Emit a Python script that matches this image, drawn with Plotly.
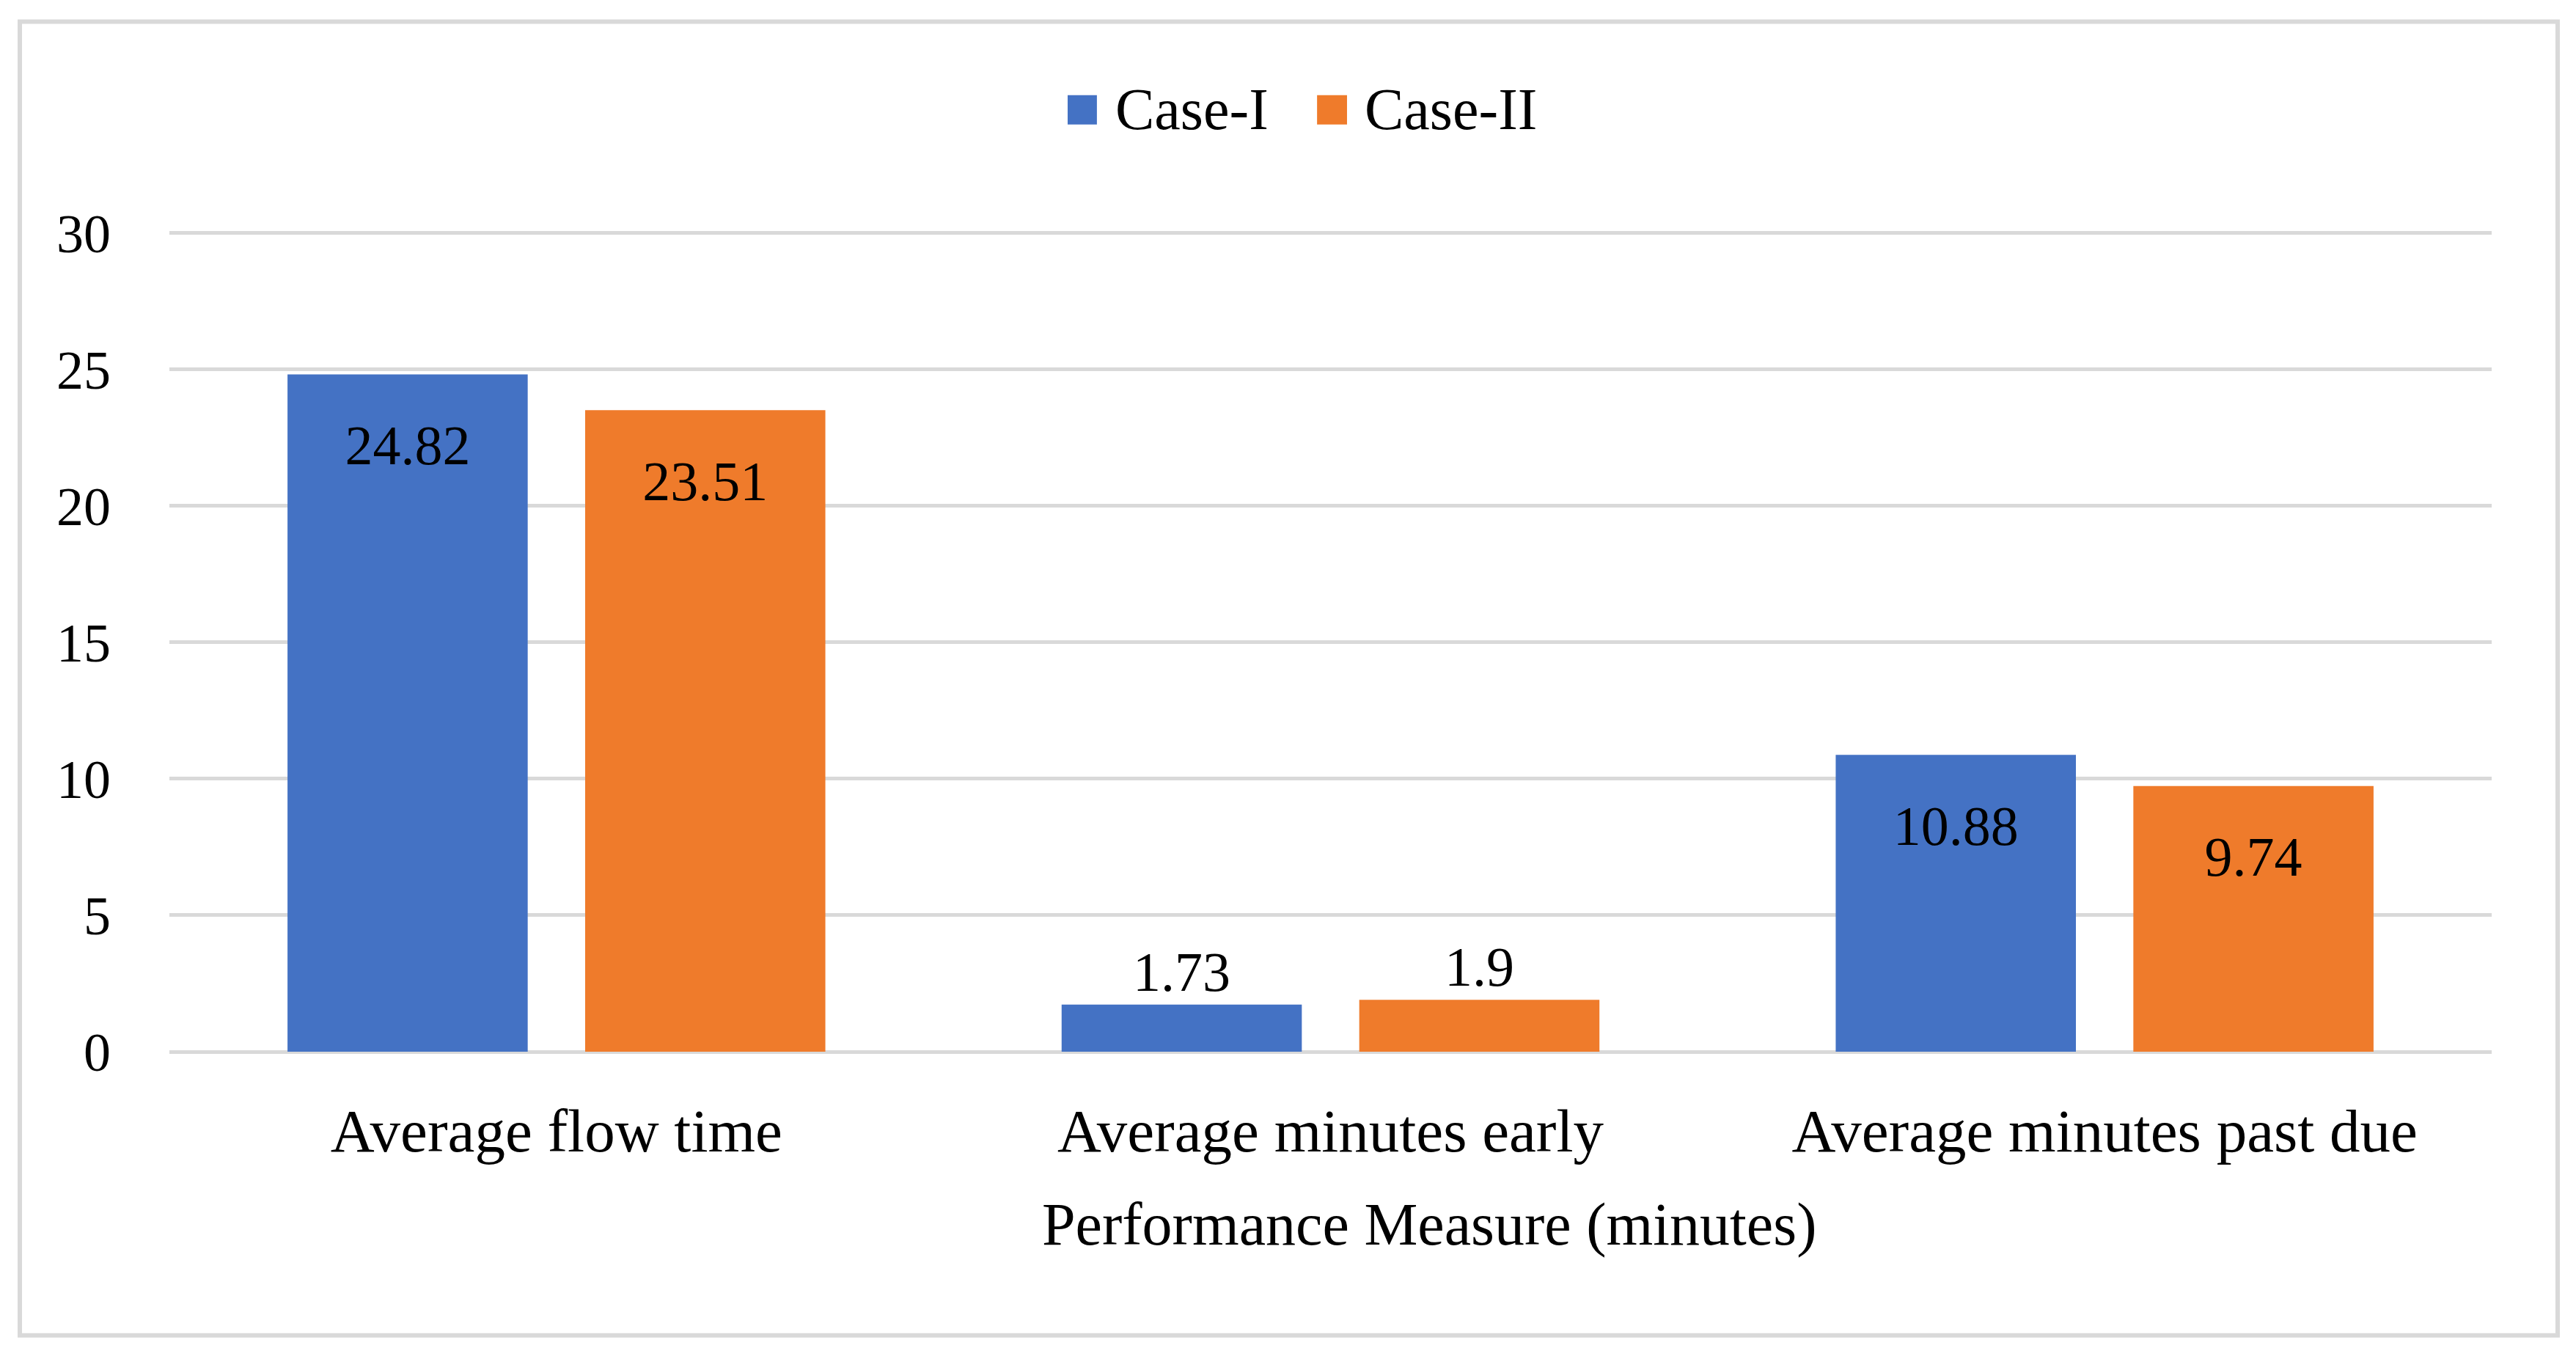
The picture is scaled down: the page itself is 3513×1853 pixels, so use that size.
import plotly.graph_objects as go

# ---- data ----
categories = ["Average flow time", "Average minutes early", "Average minutes past due"]
series_names = ["Case-I", "Case-II"]
case1_values = [24.82, 1.73, 10.88]
case2_values = [23.51, 1.9, 9.74]
y_tick_values = [0, 5, 10, 15, 20, 25, 30]
x_axis_title = "Performance Measure (minutes)"

colors = ["#4472C4", "#EF7B2B"]
FONT = "Liberation Serif"


def label_positions(vals):
    return ["inside" if v > 5 else "outside" for v in vals]


def label_templates(vals):
    return ["<span style='font-size:24px'>\u00a0</span><br>%{y}" if v > 5 else "%{y}"
            for v in vals]


fig = go.Figure()
for name, vals, col in zip(series_names, [case1_values, case2_values], colors):
    fig.add_trace(go.Bar(
        name=name,
        x=categories,
        y=vals,
        showlegend=False,
        marker=dict(color=col, line=dict(width=0)),
        texttemplate=label_templates(vals),
        textposition=label_positions(vals),
        insidetextanchor="end",
        constraintext="none",
        cliponaxis=False,
        textfont=dict(family=FONT, size=76, color="black"),
        insidetextfont=dict(family=FONT, size=76, color="black"),
        outsidetextfont=dict(family=FONT, size=76, color="black"),
        hoverinfo="skip",
    ))

# manual legend (large square swatches like the reference)
legend_shapes = []
legend_annots = []
swatch_x = [(0.3868, 0.3994), (0.4942, 0.5071)]
text_x = [0.4067, 0.5141]
for (x0, x1), tx, name, col in zip(swatch_x, text_x, series_names, colors):
    legend_shapes.append(dict(type="rect", xref="paper", yref="paper",
                              x0=x0, x1=x1, y0=1.1308, y1=1.1667,
                              fillcolor=col, line=dict(width=0)))
    legend_annots.append(dict(text=name, xref="paper", yref="paper",
                              x=tx, y=1.149, xanchor="left", yanchor="middle",
                              showarrow=False,
                              font=dict(family=FONT, size=80, color="black")))

legend_annots.append(dict(text=x_axis_title, xref="paper", yref="paper",
                          x=0.5425, y=-0.2106, xanchor="center", yanchor="middle",
                          showarrow=False,
                          font=dict(family=FONT, size=82, color="black")))

border = dict(type="rect", xref="paper", yref="paper",
              x0=-0.0644, x1=1.0284, y0=-0.3459, y1=1.2563,
              line=dict(color="#D9D9D9", width=6),
              fillcolor="rgba(0,0,0,0)", layer="below")

fig.update_layout(
    width=3513,
    height=1853,
    margin=dict(l=231, r=115, t=316, b=419),
    paper_bgcolor="white",
    plot_bgcolor="white",
    barmode="group",
    bargap=0.231,
    bargroupgap=0.193,
    font=dict(family=FONT, size=78, color="black"),
    uniformtext=dict(minsize=76, mode="show"),
    showlegend=False,
    xaxis=dict(
        showline=False,
        showgrid=False,
        zeroline=False,
        ticks="",
        tickfont=dict(family=FONT, size=83, color="black"),
        ticklabelstandoff=52,
    ),
    yaxis=dict(
        range=[0, 30.05],
        tickvals=y_tick_values,
        showgrid=True,
        gridcolor="#D9D9D9",
        gridwidth=5,
        zeroline=True,
        zerolinecolor="#D9D9D9",
        zerolinewidth=5,
        showline=False,
        ticks="",
        tickfont=dict(family=FONT, size=74, color="black"),
        ticklabelstandoff=79,
    ),
    shapes=[border] + legend_shapes,
    annotations=legend_annots,
)

fig.write_html("out.html", config={"displayModeBar": False},
               post_script="document.body.style.margin='0';")
